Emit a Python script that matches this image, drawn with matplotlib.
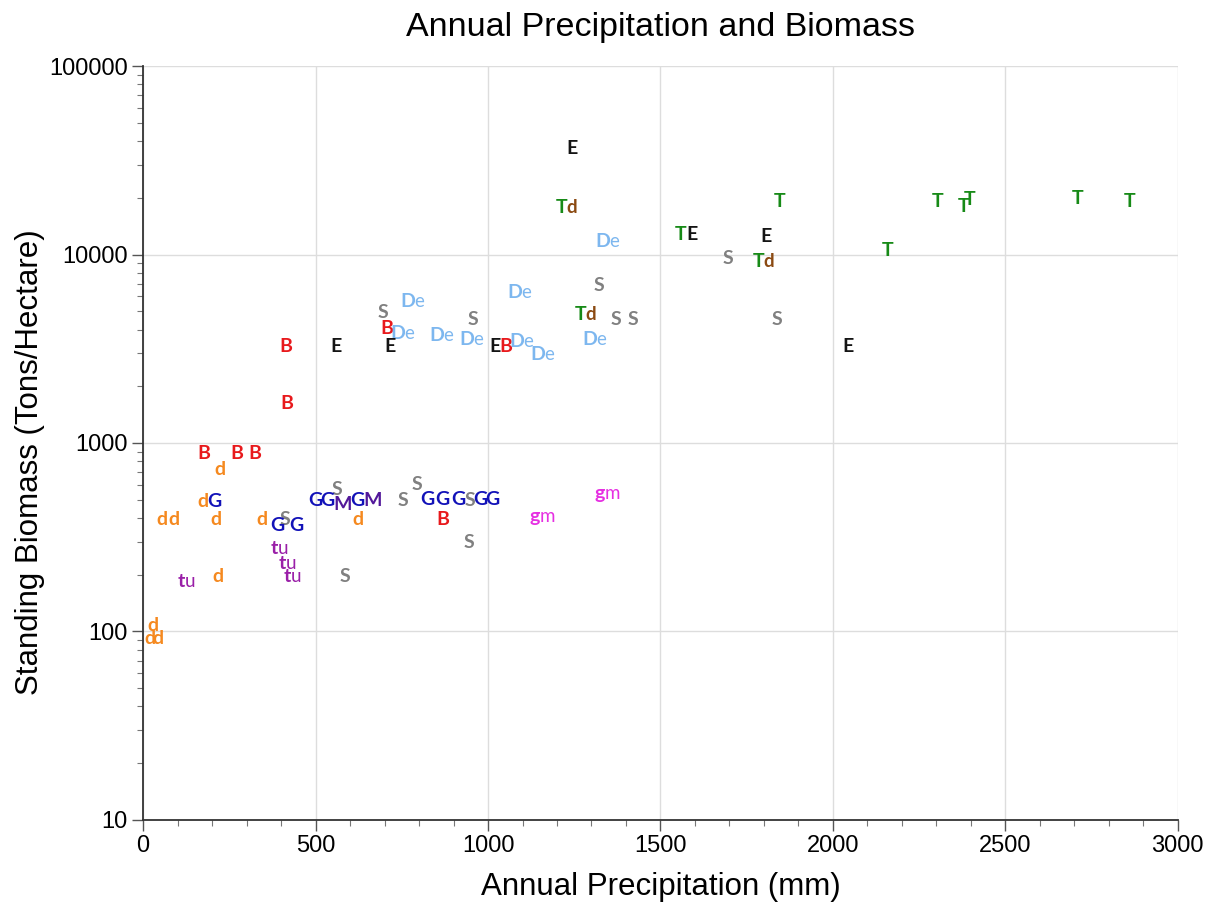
import numpy as np
import matplotlib.pyplot as plt
from matplotlib.ticker import MultipleLocator, FixedLocator, NullFormatter

# --- data: annual precipitation (mm) and standing biomass (tons/hectare) ---
b_precip = [177, 272, 325, 414, 417, 707, 1052, 870]
b_biomass = [900, 900, 900, 3300, 1650, 4100, 3300, 400]

d_precip = [223, 174, 55, 90, 212, 345, 217, 29, 20, 43, 623]
d_biomass = [740, 500, 400, 400, 400, 400, 200, 110, 93, 93, 400]

g_precip = [206, 388, 443, 499, 533, 620, 823, 867, 913, 977, 1012]
g_biomass = [500, 372, 372, 505, 505, 505, 510, 510, 510, 510, 510]

m_precip = [577, 664]
m_biomass = [481, 505]

s_precip = [412, 562, 586, 754, 794, 948, 945, 696, 957, 1322, 1371, 1420, 1696, 1838]
s_biomass = [400, 577, 200, 505, 614, 505, 302, 5000, 4600, 7000, 4600, 4600, 9700, 4600]

tu_precip = [380, 403, 417, 110]
tu_biomass = [280, 234, 200, 188]

de_precip = [768, 739, 852, 939, 1078, 1084, 1145, 1296, 1333]
de_biomass = [5700, 3900, 3800, 3600, 6400, 3500, 3000, 3600, 12000]

e_precip = [559, 716, 1020, 1243, 1591, 1806, 2043]
e_biomass = [3300, 3300, 3300, 37000, 13000, 12700, 3300]

t_precip = [1559, 1846, 2157, 2304, 2380, 2397, 2710, 2861]
t_biomass = [13000, 19500, 10700, 19500, 18300, 20000, 20200, 19500]

td_precip = [1212, 1267, 1783]
td_biomass = [18000, 4900, 9400]

gm_precip = [1136, 1325]
gm_biomass = [415, 550]

LETTER_FONT = ['Lato', 'DejaVu Sans']
FS = 14
BASE = -5.0

plt.rcParams['font.family'] = ['Liberation Sans', 'DejaVu Sans']

fig = plt.figure(figsize=(12.13, 9.05), dpi=100)
ax = fig.add_axes([0.118, 0.094, 0.853, 0.833])


def draw_letters(xs, ys, main, color, suffix=None, suffix_color=None,
                 suffix_bold=False, main_w=4.5):
    for x, y in zip(xs, ys):
        ax.annotate(main, (x, y), xytext=(0, BASE), textcoords='offset points',
                    ha='center', va='baseline', color=color, fontsize=FS,
                    fontweight='bold', family=LETTER_FONT, zorder=3)
        if suffix:
            ax.annotate(suffix, (x, y), xytext=(main_w - 0.3, BASE),
                        textcoords='offset points', ha='left', va='baseline',
                        color=suffix_color or color, fontsize=FS - 0.5,
                        fontweight='bold' if suffix_bold else 'normal',
                        family=LETTER_FONT, zorder=3)


draw_letters(s_precip, s_biomass, 'S', '#808080')
draw_letters(b_precip, b_biomass, 'B', '#e8191c')
draw_letters(d_precip, d_biomass, 'd', '#f5891f')
draw_letters(g_precip, g_biomass, 'G', '#1212b8')
draw_letters(m_precip, m_biomass, 'M', '#52189a')
draw_letters(tu_precip, tu_biomass, 't', '#9a1fa8', suffix='u', main_w=2.8)
draw_letters(de_precip, de_biomass, 'D', '#7db7ef', suffix='e', main_w=5.0)
draw_letters(e_precip, e_biomass, 'E', '#141414')
draw_letters(t_precip, t_biomass, 'T', '#178a17')
draw_letters(td_precip, td_biomass, 'T', '#178a17', suffix='d',
             suffix_color='#8b4a12', suffix_bold=True, main_w=4.0)
draw_letters(gm_precip, gm_biomass, 'g', '#e62fe2', suffix='m', main_w=3.9)

ax.set_xlim(0, 3000)
ax.set_yscale('log')
ax.set_ylim(10, 100000)

ax.xaxis.set_major_locator(MultipleLocator(500))
ax.xaxis.set_minor_locator(MultipleLocator(100))
ax.yaxis.set_major_locator(FixedLocator([10, 100, 1000, 10000, 100000]))
ax.set_yticklabels(['10', '100', '1000', '10000', '100000'])
ax.yaxis.set_minor_formatter(NullFormatter())

ax.grid(True, which='major', color='#dddddd', linewidth=1.0, zorder=0)
ax.set_axisbelow(True)
for side in ('top', 'right'):
    ax.spines[side].set_visible(False)
for side in ('left', 'bottom'):
    ax.spines[side].set_color('#333333')
    ax.spines[side].set_linewidth(1.3)

ax.tick_params(which='major', length=8, width=1.0, color='#555555',
               labelsize=17, pad=3)
ax.tick_params(which='minor', length=4, width=0.8, color='#777777')

ax.set_title('Annual Precipitation and Biomass', fontsize=24.5, pad=22)
ax.set_xlabel('Annual Precipitation (mm)', fontsize=22.5, labelpad=11)
ax.set_ylabel('Standing Biomass (Tons/Hectare)', fontsize=22.5, labelpad=3)
ax.yaxis.label.set_y(0.475)

fig.savefig('out.png', dpi=100)
